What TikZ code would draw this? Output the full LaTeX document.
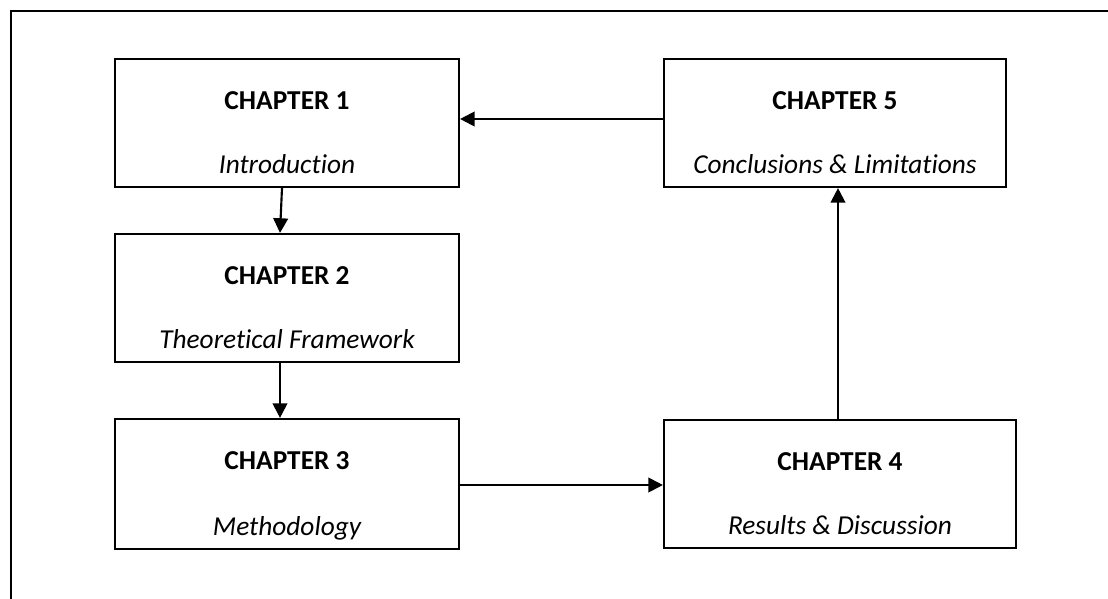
\documentclass[tikz,border=0pt]{standalone}
\usepackage{fontspec}
\setmainfont[Ligatures=NoCommon]{Carlito}
\usetikzlibrary{arrows.meta,positioning}
\tikzset{
  chapbox/.style={draw, line width=1.6pt, minimum width=258pt, minimum height=96pt, inner sep=0pt},
  chaptitle/.style={anchor=base, inner sep=0pt, font=\fontsize{20.5}{24}\selectfont\bfseries},
  chapsub/.style={anchor=base, inner sep=0pt, font=\fontsize{20.5}{24}\selectfont\itshape},
  flow/.style={line width=1.6pt, -{Triangle[length=11pt, width=11pt]}}
}
\begin{document}
\begin{tikzpicture}[x=0.75pt, y=-0.75pt]
\useasboundingbox (0,0) rectangle (1108,599);
% outer frame, cut off at right and bottom
\draw [line width=1.8pt] (11,599) -- (11,11) -- (1108,11);
% the five chapters
\node [chapbox] (c1) at (287,123) {};
\node [chapbox] (c2) at (287,298) {};
\node [chapbox, minimum height=97.5pt] (c3) at (287,484) {};
\node [chapbox, minimum width=264pt] (c4) at (840,484) {};
\node [chapbox, minimum width=256.5pt] (c5) at (835,123) {};
\node [chaptitle] (t1) at ([yshift=-39pt]c1.north) {CHAPTER 1};
\node [chapsub] (s1) at ([yshift=11.25pt]c1.south) {Introduction};
\node [chaptitle] (t2) at ([yshift=-39pt]c2.north) {CHAPTER 2};
\node [chapsub] (s2) at ([yshift=11.25pt]c2.south) {Theoretical Framework};
\node [chaptitle] (t3) at ([yshift=-39pt]c3.north) {CHAPTER 3};
\node [chapsub] (s3) at ([yshift=11.25pt]c3.south) {Methodology};
\node [chaptitle] (t4) at ([yshift=-39pt]c4.north) {CHAPTER 4};
\node [chapsub] (s4) at ([yshift=11.25pt]c4.south) {Results \& Discussion};
\node [chaptitle] (t5) at ([yshift=-39pt]c5.north) {CHAPTER 5};
\node [chapsub] (s5) at ([yshift=11.25pt]c5.south) {Conclusions \& Limitations};
% order of reading
\draw [flow] ([xshift=-3.75pt]c1.south) -- ([xshift=-5.25pt]c2.north);
\draw [flow] ([xshift=-5.25pt]c2.south) -- ([xshift=-5.25pt]c3.north);
\draw [flow] ([yshift=-0.75pt]c3.east) -- ([yshift=-0.75pt]c4.west);
\draw [flow] ([xshift=-1.5pt]c4.north) -- ([xshift=2.25pt]c5.south);
\draw [flow] ([yshift=3pt]c5.west) -- ([yshift=3pt]c1.east);
\end{tikzpicture}
\end{document}
